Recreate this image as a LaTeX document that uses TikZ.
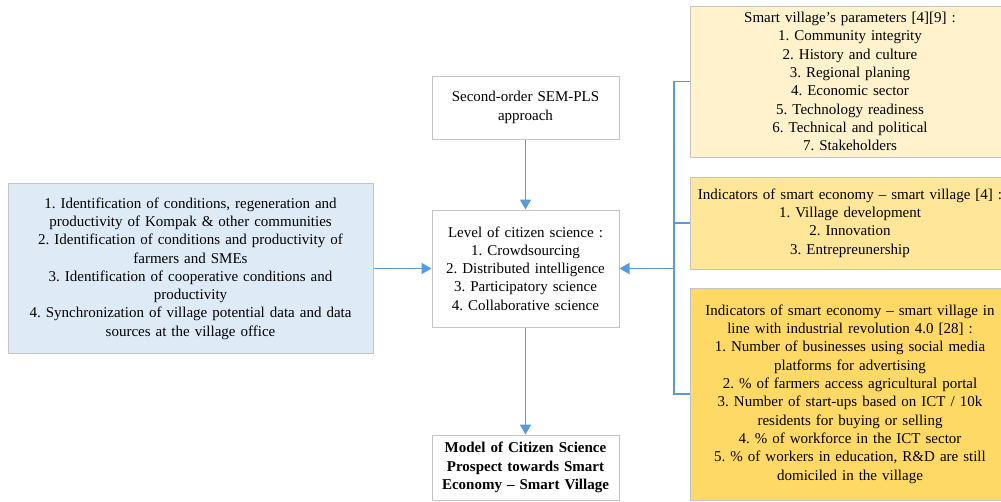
\documentclass[tikz,border=0pt]{standalone}
\usepackage{fontspec}
\setmainfont{Liberation Serif}
\usetikzlibrary{arrows.meta}
\definecolor{boxline}{HTML}{C4C4C4}
\definecolor{linkblue}{HTML}{5B9BD5}
\definecolor{paleblue}{HTML}{DEEBF7}
\definecolor{yellowA}{HTML}{FFF2CC}
\definecolor{yellowB}{HTML}{FFE699}
\definecolor{yellowC}{HTML}{FFD966}
\frenchspacing
\begin{document}
\begin{tikzpicture}[x=1pt,y=-1pt,
  box/.style={draw=boxline, line width=1pt, align=center, inner sep=0pt,
    font=\fontsize{15}{18.3}\selectfont},
  link/.style={draw=linkblue, line width=1.8pt},
  flow/.style={link, -{Triangle[width=11pt,length=10pt]}}]
  \useasboundingbox (0,0) rectangle (1001,501);

  % left: identification tasks
  \node[box, fill=paleblue, minimum width=365pt, minimum height=170pt, text width=362pt]
    (ident) at (190.5,268.5) {1. Identification of conditions, regeneration and\\
    productivity of Kompak \& other communities\\
    2. Identification of conditions and productivity of\\
    farmers and SMEs\\
    3. Identification of cooperative conditions and\\
    productivity\\
    4. Synchronization of village potential data and data\\
    sources at the village office};

  % centre column
  \node[box, fill=white, minimum width=187pt, minimum height=63pt, text width=185pt]
    (sem) at (525.5,107.5) {Second-order SEM-PLS\\approach};
  \node[box, fill=white, minimum width=187pt, minimum height=117pt, text width=185pt]
    (level) at (525.5,268.5) {Level of citizen science :\\
    1. Crowdsourcing\\
    2. Distributed intelligence\\
    3. Participatory science\\
    4. Collaborative science};
  \node[box, fill=white, minimum width=187pt, minimum height=65pt, text width=185pt,
    font=\fontsize{15}{18.3}\selectfont\bfseries]
    (model) at (525.5,467.5) {Model of Citizen Science\\
    Prospect towards Smart\\
    Economy -- Smart Village};

  % right column
  \node[box, fill=yellowA, minimum width=320pt, minimum height=151pt, text width=318pt]
    (param) at (850,81.5) {Smart village’s parameters [4][9] :\\
    1. Community integrity\\
    2. History and culture\\
    3. Regional planing\\
    4. Economic sector\\
    5. Technology readiness\\
    6. Technical and political\\
    7. Stakeholders};
  \node[box, fill=yellowB, minimum width=320pt, minimum height=92pt, text width=318pt]
    (indic) at (850,223) {Indicators of smart economy -- smart village [4] :\\
    1. Village development\\
    2. Innovation\\
    3. Entrepreunership};
  \node[box, fill=yellowC, minimum width=320pt, minimum height=212pt, text width=318pt]
    (ir) at (850,394) {Indicators of smart economy -- smart village in\\
    line with industrial revolution 4.0 [28] :\\
    1. Number of businesses using social media\\
    platforms for advertising\\
    2. \% of farmers access agricultural portal\\
    3. Number of start-ups based on ICT / 10k\\
    residents for buying or selling\\
    4. \% of workforce in the ICT sector\\
    5. \% of workers in education, R\&D are still\\
    domiciled in the village};

  % connectors
  \coordinate (bus) at (674,268.5);
  \draw[link] (param.west) -| (bus);
  \draw[link] (indic.west) -| (bus);
  \draw[link] (ir.west) -| (bus);
  \draw[flow] (bus) -- (level.east);
  \draw[flow] (ident.east) -- (level.west);
  \draw[flow] (sem.south) -- (level.north);
  \draw[flow] (level.south) -- (model.north);
\end{tikzpicture}
\end{document}
